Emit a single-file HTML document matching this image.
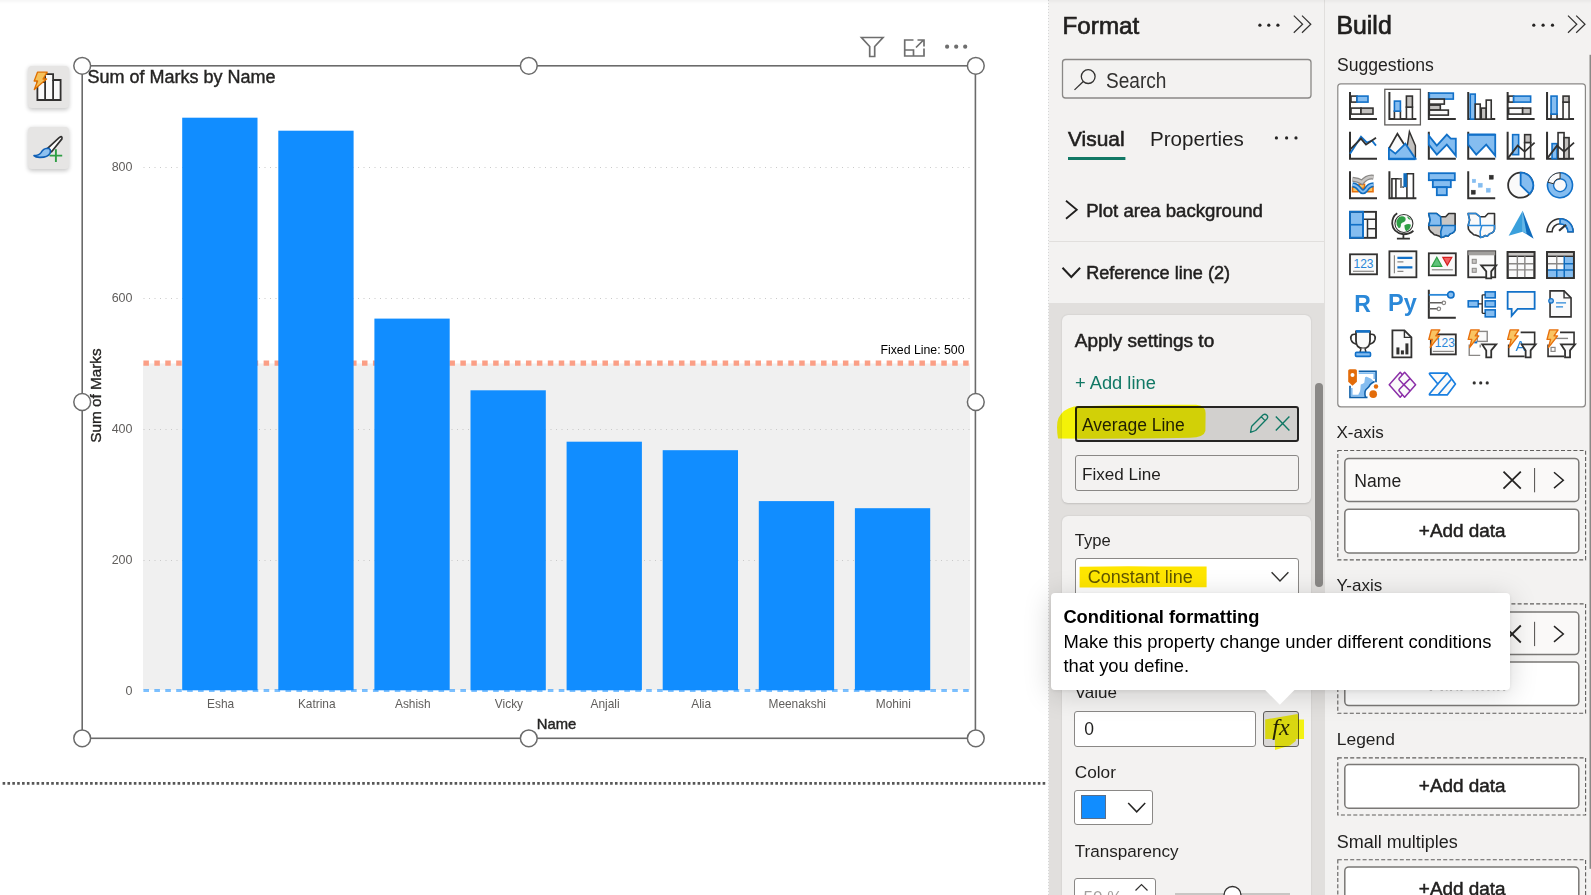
<!DOCTYPE html>
<html><head><meta charset="utf-8"><title>Power BI</title>
<style>
html,body{margin:0;padding:0;width:1591px;height:895px;overflow:hidden;background:#fff;font-family:"Liberation Sans",sans-serif}
.t{position:absolute;white-space:nowrap}
.r{position:absolute}
svg text{font-family:"Liberation Sans",sans-serif}
</style></head><body>
<div class="r" style="left:27.50px;top:66.00px;width:41.50px;height:42.00px;background:#e6e5e4;border-radius:4px;box-shadow:0 1.5px 4px rgba(0,0,0,0.22)"></div>
<div class="r" style="left:27.50px;top:126.60px;width:41.50px;height:42.00px;background:#e6e5e4;border-radius:4px;box-shadow:0 1.5px 4px rgba(0,0,0,0.22)"></div>
<svg class="r" style="left:27.5px;top:66px" width="42" height="42" viewBox="0 0 42 42">
<path d="M9.4 34 V16 H17.1 V8.2 H25.1 V14 H32.6 V34 Z" fill="#fafafa" stroke="#323130" stroke-width="1.8"/>
<path d="M17.1 16 V34 M25.1 14 V34" stroke="#323130" stroke-width="1.8"/>
<path d="M9.5 6.2 H19.2 L15 13 H18.6 L6.3 23.6 L9.6 15 H6.2 Z" fill="#f5c15a" stroke="#e07000" stroke-width="1.3" stroke-linejoin="round"/>
</svg>
<svg class="r" style="left:27.5px;top:126.6px" width="42" height="42" viewBox="0 0 42 42">
<path d="M19.6 21.4 L31.2 10.6 Q34.6 8.2 33.9 11.9 L23.6 24.8 Z" fill="#fff" stroke="#323130" stroke-width="1.7" stroke-linejoin="round"/>
<path d="M6 28.6 Q10.8 28.6 13 25.6 Q15.4 21.4 19.4 21.2 Q23.6 21.4 22 26.4 Q19.8 30.6 11.6 30.4 Q7.6 30.2 6 28.6Z" fill="#8ec1f0" stroke="#0f5fb5" stroke-width="1.6" stroke-linejoin="round"/>
<path d="M21.6 28.6 h12.6 M27.9 22.3 v12.6" stroke="#2e9e44" stroke-width="1.9"/>
</svg>
<svg class="r" style="left:0;top:0" width="1048" height="895" viewBox="0 0 1048 895"><rect x="143" y="363.5" width="827" height="326.5" fill="#f0f0f0"/><line x1="143.5" y1="167.5" x2="970" y2="167.5" stroke="#c9c9c9" stroke-width="1" stroke-dasharray="1 4.5"/><line x1="143.5" y1="298.5" x2="970" y2="298.5" stroke="#c9c9c9" stroke-width="1" stroke-dasharray="1 4.5"/><line x1="143.5" y1="429.5" x2="970" y2="429.5" stroke="#c9c9c9" stroke-width="1" stroke-dasharray="1 4.5"/><line x1="143.5" y1="560.5" x2="970" y2="560.5" stroke="#c9c9c9" stroke-width="1" stroke-dasharray="1 4.5"/><line x1="143.4" y1="363.2" x2="969" y2="363.2" stroke="#fb9f86" stroke-width="5.2" stroke-dasharray="5.5 5.43"/><rect x="182.20" y="117.7" width="75.3" height="572.60" fill="#118dff"/><rect x="278.30" y="130.7" width="75.3" height="559.60" fill="#118dff"/><rect x="374.40" y="318.6" width="75.3" height="371.70" fill="#118dff"/><rect x="470.50" y="390.3" width="75.3" height="300.00" fill="#118dff"/><rect x="566.60" y="441.7" width="75.3" height="248.60" fill="#118dff"/><rect x="662.70" y="450.2" width="75.3" height="240.10" fill="#118dff"/><rect x="758.80" y="501.1" width="75.3" height="189.20" fill="#118dff"/><rect x="854.90" y="508.2" width="75.3" height="182.10" fill="#118dff"/><line x1="143.4" y1="690.5" x2="970" y2="690.5" stroke="#118dff" stroke-opacity="0.55" stroke-width="3" stroke-dasharray="5.6 5.33"/><text x="132.5" y="171" text-anchor="end" font-family="Liberation Sans" font-size="12.5" fill="#605e5c">800</text><text x="132.5" y="302" text-anchor="end" font-family="Liberation Sans" font-size="12.5" fill="#605e5c">600</text><text x="132.5" y="433" text-anchor="end" font-family="Liberation Sans" font-size="12.5" fill="#605e5c">400</text><text x="132.5" y="564" text-anchor="end" font-family="Liberation Sans" font-size="12.5" fill="#605e5c">200</text><text x="132.5" y="695" text-anchor="end" font-family="Liberation Sans" font-size="12.5" fill="#605e5c">0</text><text x="220.65" y="707.7" text-anchor="middle" font-family="Liberation Sans" font-size="11.9" fill="#605e5c">Esha</text><text x="316.75" y="707.7" text-anchor="middle" font-family="Liberation Sans" font-size="11.9" fill="#605e5c">Katrina</text><text x="412.85" y="707.7" text-anchor="middle" font-family="Liberation Sans" font-size="11.9" fill="#605e5c">Ashish</text><text x="508.95" y="707.7" text-anchor="middle" font-family="Liberation Sans" font-size="11.9" fill="#605e5c">Vicky</text><text x="605.05" y="707.7" text-anchor="middle" font-family="Liberation Sans" font-size="11.9" fill="#605e5c">Anjali</text><text x="701.15" y="707.7" text-anchor="middle" font-family="Liberation Sans" font-size="11.9" fill="#605e5c">Alia</text><text x="797.25" y="707.7" text-anchor="middle" font-family="Liberation Sans" font-size="11.9" fill="#605e5c">Meenakshi</text><text x="893.35" y="707.7" text-anchor="middle" font-family="Liberation Sans" font-size="11.9" fill="#605e5c">Mohini</text><text x="556.6" y="728.8" text-anchor="middle" font-family="Liberation Sans" font-size="14.8" fill="#252423" stroke="#252423" stroke-width="0.42">Name</text><text transform="translate(101.2 395.6) rotate(-90)" x="0" y="0" text-anchor="middle" font-family="Liberation Sans" font-size="15.3" fill="#252423" stroke="#252423" stroke-width="0.35">Sum of Marks</text><text x="964.5" y="353.8" text-anchor="end" font-family="Liberation Sans" font-size="12.3" fill="#000">Fixed Line: 500</text><text x="87.5" y="82.7" font-family="Liberation Sans" font-size="18" fill="#252423" stroke="#252423" stroke-width="0.4">Sum of Marks by Name</text><rect x="82.2" y="65.8" width="893.2" height="672.5" fill="none" stroke="#6b6b6b" stroke-width="1.6"/><circle cx="82.2" cy="65.8" r="8.4" fill="#fff" stroke="#6b6b6b" stroke-width="1.5"/><circle cx="82.2" cy="402" r="8.4" fill="#fff" stroke="#6b6b6b" stroke-width="1.5"/><circle cx="82.2" cy="738.3" r="8.4" fill="#fff" stroke="#6b6b6b" stroke-width="1.5"/><circle cx="528.8" cy="65.8" r="8.4" fill="#fff" stroke="#6b6b6b" stroke-width="1.5"/><circle cx="528.8" cy="738.3" r="8.4" fill="#fff" stroke="#6b6b6b" stroke-width="1.5"/><circle cx="975.8" cy="65.8" r="8.4" fill="#fff" stroke="#6b6b6b" stroke-width="1.5"/><circle cx="975.8" cy="402" r="8.4" fill="#fff" stroke="#6b6b6b" stroke-width="1.5"/><circle cx="975.8" cy="738.3" r="8.4" fill="#fff" stroke="#6b6b6b" stroke-width="1.5"/><path d="M861.5 37.5 h21.5 l-8.3 9 v10 h-5 v-10 z" fill="none" stroke="#6e6e6e" stroke-width="1.7" stroke-linejoin="miter"/><path d="M913.5 40 h-8.8 v16 h19.3 v-6.5 M924 48.5 V56 M904.7 50 h8.8 v6 M916 47.5 l7-7 M917.5 40 h6.5 v6.5" fill="none" stroke="#6e6e6e" stroke-width="1.7"/><circle cx="947.1" cy="46.7" r="2.1" fill="#6e6e6e"/><circle cx="956.2" cy="46.7" r="2.1" fill="#6e6e6e"/><circle cx="965.2" cy="46.7" r="2.1" fill="#6e6e6e"/><line x1="2.6" y1="783.4" x2="1046.5" y2="783.4" stroke="#575757" stroke-width="2.6" stroke-dasharray="2.6 2.26"/></svg>
<div class="r" style="left:1048.00px;top:0.00px;width:277.00px;height:895.00px;background:#f3f2f1"></div>
<div class="r" style="left:1048.00px;top:0.00px;width:1.00px;height:895.00px;background:repeating-linear-gradient(#d6d6d6 0 1.5px,#f6f6f6 1.5px 3px)"></div>
<div class="r" style="left:1324.00px;top:0.00px;width:1.00px;height:895.00px;background:#e1dfdd"></div>
<div class="t" style="left:1062.60px;top:13.81px;font-size:24.2px;line-height:24.2px;font-weight:400;color:#201f1e;-webkit-text-stroke:0.68px #201f1e;">Format</div>
<svg class="r" style="left:0;top:0" width="1591" height="895" viewBox="0 0 1591 895"><circle cx="1259.9" cy="25.2" r="1.6" fill="#252423"/><circle cx="1268.8" cy="25.2" r="1.6" fill="#252423"/><circle cx="1277.9" cy="25.2" r="1.6" fill="#252423"/><path d="M1293.8 15.6 L1302.6 24.2 L1293.8 32.8 M1302 15.6 L1310.8 24.2 L1302 32.8" fill="none" stroke="#323130" stroke-width="1.2"/><rect x="1062.5" y="59.5" width="248.5" height="38.5" rx="3" fill="#f3f2f1" stroke="#8a8886" stroke-width="1.3"/><circle cx="1088.2" cy="76.6" r="6.9" fill="none" stroke="#323130" stroke-width="1.3"/><path d="M1083.3 81.5 L1074.5 89.9" stroke="#323130" stroke-width="1.3"/><rect x="1068" y="157" width="57.4" height="3" fill="#117865"/><circle cx="1276.4" cy="137.9" r="1.6" fill="#252423"/><circle cx="1286.6" cy="137.9" r="1.6" fill="#252423"/><circle cx="1296" cy="137.9" r="1.6" fill="#252423"/><path d="M1066 200.8 L1076.8 209.8 L1066 218.8" fill="none" stroke="#201f1e" stroke-width="1.8"/><rect x="1049" y="241" width="275" height="1" fill="#e1dfdd"/><path d="M1062.5 267.8 L1071.3 277 L1080.1 267.8" fill="none" stroke="#201f1e" stroke-width="2"/></svg>
<div class="t" style="left:1106.20px;top:69.55px;font-size:21.8px;line-height:21.8px;font-weight:400;color:#323130;transform:scaleX(0.875);transform-origin:0 0;">Search</div>
<div class="t" style="left:1068.00px;top:128.71px;font-size:20.9px;line-height:20.9px;font-weight:400;color:#201f1e;-webkit-text-stroke:0.59px #201f1e;">Visual</div>
<div class="t" style="left:1150.00px;top:128.96px;font-size:20.6px;line-height:20.6px;font-weight:400;color:#201f1e;">Properties</div>
<div class="t" style="left:1086.20px;top:202.26px;font-size:18.6px;line-height:18.6px;font-weight:400;color:#201f1e;-webkit-text-stroke:0.52px #201f1e;">Plot area background</div>
<div class="t" style="left:1086.20px;top:264.48px;font-size:18.1px;line-height:18.1px;font-weight:400;color:#201f1e;-webkit-text-stroke:0.51px #201f1e;">Reference line (2)</div>
<div class="r" style="left:1049.00px;top:303.30px;width:275.00px;height:591.70px;background:#e1dfdd"></div>
<div class="r" style="left:1062.00px;top:315.00px;width:249.30px;height:188.20px;background:#f3f2f1;border-radius:6px;box-shadow:0 0.5px 2px rgba(0,0,0,0.14)"></div>
<div class="r" style="left:1062.00px;top:516.20px;width:249.30px;height:388.80px;background:#f3f2f1;border-radius:6px;box-shadow:0 0.5px 2px rgba(0,0,0,0.14)"></div>
<div class="t" style="left:1074.80px;top:331.12px;font-size:19.0px;line-height:19.0px;font-weight:400;color:#201f1e;-webkit-text-stroke:0.53px #201f1e;">Apply settings to</div>
<div class="t" style="left:1075.00px;top:373.61px;font-size:18.3px;line-height:18.3px;font-weight:400;color:#117865;">+ Add line</div>
<div class="r" style="left:1074.60px;top:406.40px;width:224.10px;height:35.80px;background:#d2d0ce;border:2px solid #252423;border-radius:3px;box-sizing:border-box"></div>
<div class="t" style="left:1082.00px;top:417.19px;font-size:17.5px;line-height:17.5px;font-weight:400;color:#201f1e;">Average Line</div>
<div class="r" style="left:1074.60px;top:455.40px;width:224.10px;height:35.50px;background:#f3f2f1;border:1px solid #8a8886;border-radius:3px;box-sizing:border-box"></div>
<div class="t" style="left:1082.00px;top:466.42px;font-size:17.1px;line-height:17.1px;font-weight:400;color:#201f1e;">Fixed Line</div>
<div class="t" style="left:1074.80px;top:532.95px;font-size:16.6px;line-height:16.6px;font-weight:400;color:#201f1e;">Type</div>
<div class="r" style="left:1074.60px;top:558.40px;width:224.10px;height:41.60px;background:#ffffff;border:1px solid #8a8886;border-radius:3px;box-sizing:border-box"></div>
<div class="t" style="left:1087.80px;top:568.36px;font-size:18.0px;line-height:18.0px;font-weight:400;color:#605e5c;">Constant line</div>
<svg class="r" style="left:0;top:0" width="1591" height="895" viewBox="0 0 1591 895"><path d="M1250.5 432.3 L1251.7 426.2 L1263.2 414.8 Q1265 413.4 1266.9 415.3 Q1268.5 417.1 1267 418.8 L1255.6 430.5 Z M1261.3 416.8 L1265 420.6" fill="none" stroke="#117865" stroke-width="1.3" stroke-linejoin="round"/><path d="M1275.8 416.4 L1289.4 430.6 M1289.4 416.4 L1275.8 430.6" stroke="#117865" stroke-width="1.4"/><path d="M1271.6 572.3 L1280 580.9 L1288.4 572.3" fill="none" stroke="#323130" stroke-width="1.4"/></svg>
<div class="r" style="left:1315.20px;top:383.30px;width:8.30px;height:204.10px;background:#8a8886;border-radius:4px"></div>
<div class="t" style="left:1074.80px;top:684.31px;font-size:17.0px;line-height:17.0px;font-weight:400;color:#201f1e;">Value</div>
<div class="r" style="left:1074.30px;top:710.80px;width:182.20px;height:35.80px;background:#fff;border:1px solid #8a8886;border-radius:3px;box-sizing:border-box"></div>
<div class="t" style="left:1084.20px;top:721.19px;font-size:17.5px;line-height:17.5px;font-weight:400;color:#201f1e;">0</div>
<div class="r" style="left:1263.00px;top:710.80px;width:36.00px;height:35.80px;background:#d9d7d5;border:1px solid #605e5c;border-radius:3px;box-sizing:border-box"></div>
<div class="t" style="left:1268px;top:712px;width:26px;text-align:center;font-family:'Liberation Serif',serif;font-style:italic;font-size:24px;line-height:30px;color:#252423">fx</div>
<div class="t" style="left:1074.80px;top:764.44px;font-size:17.2px;line-height:17.2px;font-weight:400;color:#201f1e;">Color</div>
<div class="r" style="left:1074.30px;top:789.80px;width:78.40px;height:35.60px;background:#fff;border:1px solid #8a8886;border-radius:3px;box-sizing:border-box"></div>
<div class="r" style="left:1081.00px;top:795.40px;width:24.80px;height:24.00px;background:#118dff;border:1px solid #5a6f8a;box-sizing:border-box"></div>
<svg class="r" style="left:0;top:0" width="1591" height="895" viewBox="0 0 1591 895"><path d="M1128.2 803 L1136.7 811.8 L1145.2 803" fill="none" stroke="#252423" stroke-width="1.5"/></svg>
<div class="t" style="left:1074.80px;top:843.32px;font-size:17.1px;line-height:17.1px;font-weight:400;color:#201f1e;">Transparency</div>
<div class="r" style="left:1074.30px;top:877.50px;width:82.00px;height:32.50px;background:#fff;border:1px solid #8a8886;border-radius:3px;box-sizing:border-box"></div>
<div class="t" style="left:1083.50px;top:888.61px;font-size:17.0px;line-height:17.0px;font-weight:400;color:#a19f9d;">50 %</div>
<svg class="r" style="left:0;top:0" width="1591" height="895" viewBox="0 0 1591 895"><path d="M1135.5 890.5 L1141.5 884.5 L1147.5 890.5" fill="none" stroke="#323130" stroke-width="1.2"/><rect x="1175" y="893" width="115" height="3" fill="#c8c6c4"/><circle cx="1232.5" cy="895" r="8.5" fill="#fff" stroke="#323130" stroke-width="1.3"/></svg>
<svg class="r" style="left:0;top:0;mix-blend-mode:multiply" width="1591" height="895" viewBox="0 0 1591 895"><path d="M1074 406.5 Q1140 404.2 1196 404.8 Q1206 405.3 1205.6 414 L1205.4 431 Q1204 437.5 1190 437.8 Q1120 439 1058 438.6 Q1055.8 424 1058.5 418 Q1063 409 1074 406.5Z" fill="#ffff00" fill-opacity="0.97"/><path d="M1079.6 566.8 Q1130 565.6 1160 566.6 L1206.6 566.6 L1206.6 587.2 Q1150 586.6 1120 587.6 L1079.6 587.6 Z" fill="#ffe600"/><path d="M1265.2 719.5 L1297.7 714.1 L1298.5 719.5 L1304 719.5 L1304 739 L1296 739 L1295.7 741 L1290 745.6 L1275 750 L1274.9 738.9 L1265.2 738.9Z" fill="#ffff00" fill-opacity="0.92"/></svg>
<div class="r" style="left:1325.00px;top:0.00px;width:266.00px;height:895.00px;background:#f3f2f1"></div>
<svg class="r" style="left:0;top:0" width="1591" height="895" viewBox="0 0 1591 895"><circle cx="1533.8" cy="25.2" r="1.6" fill="#252423"/><circle cx="1543.1" cy="25.2" r="1.6" fill="#252423"/><circle cx="1552.5" cy="25.2" r="1.6" fill="#252423"/><path d="M1568 15.6 L1576.8 24.2 L1568 32.8 M1576.2 15.6 L1585 24.2 L1576.2 32.8" fill="none" stroke="#323130" stroke-width="1.2"/><rect x="1337.8" y="83.8" width="247.6" height="323" rx="3" fill="#fff" stroke="#8a8886" stroke-width="1.2"/><rect x="1384.8" y="89.3" width="35.6" height="35.6" fill="none" stroke="#605e5c" stroke-width="1.3"/><g transform="translate(1349.00 92.10)"><path d="M1 0 V27 H28" fill="none" stroke="#323130" stroke-width="2"/><rect x="2" y="4" width="6" height="6" fill="#fafafa" stroke="#323130" stroke-width="1.6"/><rect x="8" y="4" width="11" height="6" fill="#85bdf0" stroke="#1170c8" stroke-width="1.6"/><rect x="2" y="16" width="10" height="6" fill="#fafafa" stroke="#323130" stroke-width="1.6"/><rect x="12" y="16" width="12" height="6" fill="#c3c1bf" stroke="#323130" stroke-width="1.6"/></g><g transform="translate(1388.41 92.10)"><path d="M1 0 V27 H28" fill="none" stroke="#323130" stroke-width="2"/><rect x="6" y="19" width="6" height="8" fill="#fafafa" stroke="#323130" stroke-width="1.6"/><rect x="6" y="9" width="6" height="10" fill="#85bdf0" stroke="#1170c8" stroke-width="1.6"/><rect x="18" y="15" width="6" height="12" fill="#fafafa" stroke="#323130" stroke-width="1.6"/><rect x="18" y="4" width="6" height="11" fill="#c3c1bf" stroke="#323130" stroke-width="1.6"/></g><g transform="translate(1427.82 92.10)"><path d="M1 0 V27 H28" fill="none" stroke="#323130" stroke-width="2"/><rect x="1.5" y="1" width="24" height="6" fill="#85bdf0" stroke="#1170c8" stroke-width="1.6"/><rect x="1.5" y="7" width="15" height="5" fill="#fafafa" stroke="#323130" stroke-width="1.6"/><rect x="1.5" y="13" width="11" height="5" fill="#c3c1bf" stroke="#323130" stroke-width="1.6"/><rect x="1.5" y="18" width="19" height="5" fill="#fafafa" stroke="#323130" stroke-width="1.6"/></g><g transform="translate(1467.23 92.10)"><path d="M1 0 V27 H28" fill="none" stroke="#323130" stroke-width="2"/><rect x="3" y="2" width="5" height="25" fill="#85bdf0" stroke="#1170c8" stroke-width="1.6"/><rect x="8" y="12" width="5" height="15" fill="#fafafa" stroke="#323130" stroke-width="1.6"/><rect x="14" y="16" width="5" height="11" fill="#c3c1bf" stroke="#323130" stroke-width="1.6"/><rect x="19" y="8" width="5" height="19" fill="#fafafa" stroke="#323130" stroke-width="1.6"/></g><g transform="translate(1506.64 92.10)"><path d="M1 0 V27 H28" fill="none" stroke="#323130" stroke-width="2"/><rect x="2" y="4" width="5" height="6" fill="#fafafa" stroke="#323130" stroke-width="1.6"/><rect x="7" y="4" width="17" height="6" fill="#85bdf0" stroke="#1170c8" stroke-width="1.6"/><rect x="2" y="16" width="14" height="6" fill="#fafafa" stroke="#323130" stroke-width="1.6"/><rect x="16" y="16" width="8" height="6" fill="#c3c1bf" stroke="#323130" stroke-width="1.6"/></g><g transform="translate(1546.05 92.10)"><path d="M1 0 V27 H28" fill="none" stroke="#323130" stroke-width="2"/><rect x="5" y="22" width="6" height="5" fill="#fafafa" stroke="#323130" stroke-width="1.6"/><rect x="5" y="4" width="6" height="18" fill="#85bdf0" stroke="#1170c8" stroke-width="1.6"/><rect x="17" y="10" width="6" height="17" fill="#fafafa" stroke="#323130" stroke-width="1.6"/><rect x="17" y="4" width="6" height="6" fill="#c3c1bf" stroke="#323130" stroke-width="1.6"/></g><g transform="translate(1349.00 131.65)"><path d="M1 0 V27 H28" fill="none" stroke="#323130" stroke-width="2"/><path d="M1 22 L12 5 L18 11 L23 9 L27 14" fill="none" stroke="#1170c8" stroke-width="1.8"/><path d="M1 18 L12 7 L17 13 L27 6" fill="none" stroke="#323130" stroke-width="1.8"/></g><g transform="translate(1388.41 131.65)"><path d="M17 27 L21 0 L27 14 V27Z" fill="#c3c1bf" stroke="#323130" stroke-width="1.4"/><path d="M0.5 27 L0.5 17 L9 2 L21 21 V27Z" fill="#fafafa" stroke="#323130" stroke-width="1.8"/><path d="M0.5 27 V17 L7 22 L17 12 L27 27Z" fill="#85bdf0" stroke="#1170c8" stroke-width="1.8"/><path d="M0 27.5 H27" stroke="#1170c8" stroke-width="2"/></g><g transform="translate(1427.82 131.65)"><path d="M1 0 V27 H28" fill="none" stroke="#323130" stroke-width="2"/><path d="M1 4 L9 14 L19 3 L23 7 L28 7 V24 L19 13 L9 23 L1 13Z" fill="#85bdf0" stroke="#1170c8" stroke-width="1.8"/></g><g transform="translate(1467.23 131.65)"><path d="M1 0 V27 H28" fill="none" stroke="#323130" stroke-width="2"/><path d="M1 3 H28 V24 L19 13 L9 23 L1 13Z" fill="#85bdf0" stroke="#1170c8" stroke-width="1.8"/><path d="M1 3 H28" stroke="#1170c8" stroke-width="2"/></g><g transform="translate(1506.64 131.65)"><path d="M1 0 V27 H28" fill="none" stroke="#323130" stroke-width="2"/><rect x="6" y="3" width="6" height="20" fill="#85bdf0" stroke="#1170c8" stroke-width="1.6"/><rect x="18" y="3" width="6" height="8" fill="#c3c1bf" stroke="#323130" stroke-width="1.6"/><rect x="18" y="11" width="6" height="16" fill="#fafafa" stroke="#323130" stroke-width="1.6"/><path d="M1 27 L11 14 L18 20 L28 11" fill="none" stroke="#323130" stroke-width="1.8"/></g><g transform="translate(1546.05 131.65)"><path d="M1 0 V27 H28" fill="none" stroke="#323130" stroke-width="2"/><rect x="6" y="12" width="5" height="15" fill="#85bdf0" stroke="#1170c8" stroke-width="1.6"/><rect x="12" y="1" width="6" height="26" fill="#fafafa" stroke="#323130" stroke-width="1.6"/><rect x="18" y="6" width="5" height="21" fill="#c3c1bf" stroke="#323130" stroke-width="1.6"/><path d="M1 27 L11 14 L18 20 L28 11" fill="none" stroke="#323130" stroke-width="1.8"/></g><g transform="translate(1349.00 171.20)"><path d="M1 0 V27 H28" fill="none" stroke="#323130" stroke-width="2"/><path d="M3.5 16 H9 V20.5 H3.5Z M10 13 H15.5 V17 H10Z M18 15.5 H24 V20.5 H18Z" fill="#f9c462" stroke="#e8700c" stroke-width="1.6"/><path d="M3.5 8 Q9 8.5 13 11 Q18 5 24.5 6" fill="none" stroke="#8a8886" stroke-width="5"/><path d="M3.5 8 Q9 8.5 13 11 Q18 5 24.5 6" fill="none" stroke="#c8c6c4" stroke-width="2.6"/><path d="M3.5 13.5 Q8 14 11 18.5 Q14 22.5 17 18.5 Q20 13.5 24.5 13.5" fill="none" stroke="#0f6cbd" stroke-width="5"/><path d="M3.5 13.5 Q8 14 11 18.5 Q14 22.5 17 18.5 Q20 13.5 24.5 13.5" fill="none" stroke="#85bdf0" stroke-width="2"/></g><g transform="translate(1388.41 171.20)"><path d="M1 0 V27 H28" fill="none" stroke="#323130" stroke-width="2"/><path d="M3.5 27 V7.5 H12.5 V16 H15.5 M7.5 27 V8 M18.5 27 V2.5 H25 V27" fill="none" stroke="#323130" stroke-width="1.6"/><path d="M10 8 H12.5 V16 H15" fill="none" stroke="#8a8886" stroke-width="1.6"/><rect x="15" y="2" width="3.5" height="14" fill="#0f6cbd"/></g><g transform="translate(1427.82 171.20)"><rect x="1" y="2" width="26" height="7" fill="#85bdf0" stroke="#1170c8" stroke-width="1.8"/><rect x="5" y="9" width="18" height="7" fill="#85bdf0" stroke="#1170c8" stroke-width="1.8"/><rect x="9" y="16" width="10" height="8" fill="#85bdf0" stroke="#1170c8" stroke-width="1.8"/></g><g transform="translate(1467.23 171.20)"><path d="M1 0 V27 H28" fill="none" stroke="#323130" stroke-width="2"/><rect x="22" y="4" width="4" height="4" fill="#323130" stroke="#323130" stroke-width="0.5"/><rect x="5" y="8" width="3.5" height="3.5" fill="#85bdf0" stroke="#85bdf0" stroke-width="0.5"/><rect x="11" y="12" width="4" height="4" fill="#85bdf0" stroke="#85bdf0" stroke-width="0.5"/><rect x="19" y="17" width="4" height="4" fill="#85bdf0" stroke="#85bdf0" stroke-width="0.5"/><rect x="4" y="19" width="4" height="4" fill="#323130" stroke="#323130" stroke-width="0.5"/></g><g transform="translate(1506.64 171.20)"><circle cx="14" cy="14" r="12.5" fill="#fafafa" stroke="#323130" stroke-width="1.8"/><path d="M14 1.5 A12.5 12.5 0 0 1 23 22.7 L14 14Z" fill="#85bdf0" stroke="#1170c8" stroke-width="1.8"/></g><g transform="translate(1546.05 171.20)"><circle cx="14" cy="14" r="10" fill="none" stroke="#85bdf0" stroke-width="6"/><path d="M14 1.5 A12.5 12.5 0 1 1 1.8 11" fill="none" stroke="#1170c8" stroke-width="1.6"/><circle cx="14" cy="14" r="6.5" fill="#fafafa" stroke="#1170c8" stroke-width="1.4"/><path d="M1.8 11 A12.5 12.5 0 0 1 14 1.5 V7.5 A6.5 6.5 0 0 0 7.6 12.6Z" fill="#fafafa" stroke="#323130" stroke-width="1"/></g><g transform="translate(1349.00 210.75)"><rect x="1" y="1" width="26" height="26" fill="#fafafa" stroke="#323130" stroke-width="1.6"/><rect x="1" y="1" width="13" height="13" fill="#85bdf0" stroke="#1170c8" stroke-width="1.6"/><rect x="1" y="14" width="13" height="13" fill="#85bdf0" stroke="#1170c8" stroke-width="1.6"/><path d="M14 8.5 H27 M18.5 8.5 V27 M18.5 18 H27" stroke="#323130" stroke-width="1.5"/><rect x="1" y="1" width="26" height="26" fill="none" stroke="#323130" stroke-width="1.6"/><rect x="1" y="1" width="13" height="26" fill="none" stroke="#1170c8" stroke-width="1.8"/></g><g transform="translate(1388.41 210.75)"><circle cx="15.5" cy="12.8" r="9" fill="#fafafa" stroke="#323130" stroke-width="1.1"/><path d="M10.5 6.5 Q14 4.5 17 7 Q18 10 15 11.5 Q12 12 12.5 15 Q12 18 10 17 Q7.5 14 8 10Z M16 14.5 Q20 12.5 22.5 14 Q22 18.5 18 20.5 Q16 19 16 14.5Z M18.5 5.5 Q21 6 22.5 9 Q20 9.5 18.5 5.5Z" fill="#2e9e44"/><path d="M8.8 2.5 Q3.5 6 3.8 13 Q4.5 22 15 23.5 Q21 23.5 25 20 M15 23.5 V27.5 M8.5 27.8 H21.5" fill="none" stroke="#323130" stroke-width="1.8"/></g><g transform="translate(1427.82 210.75)"><path d="M0.9 2.8 H8.8 L12.8 6 H17.8 L20.9 2.8 H27.3 V18.3 Q27 22 22.4 23 L20 25.5 L18 24.8 L16 26 L13.3 26.7 L11 25.2 L8.8 24.4 L6.5 24 L4.8 22.4 L3 21 L1.2 18.4 L0.9 14.8 L2.4 9.3Z" fill="#c8c6c4" stroke="#323130" stroke-width="1.6" stroke-linejoin="round"/><path d="M0.9 2.8 H8.8 L12.8 6 L13.2 14.8 H0.9 L2.4 9.3Z" fill="#85bdf0" stroke="#0f6cbd" stroke-width="1.6" stroke-linejoin="round"/><path d="M14.6 14.8 H27.3 V18.3 Q27 22 22.4 23 L20 25.5 L18 24.8 L16 26 L13.3 26.7 L12.9 21Z" fill="#85bdf0" stroke="#0f6cbd" stroke-width="1.6" stroke-linejoin="round"/></g><g transform="translate(1467.23 210.75)"><path d="M0.9 2.8 H8.8 L12.8 6 H17.8 L20.9 2.8 H27.3 V18.3 Q27 22 22.4 23 L20 25.5 L18 24.8 L16 26 L13.3 26.7 L11 25.2 L8.8 24.4 L6.5 24 L4.8 22.4 L3 21 L1.2 18.4 L0.9 14.8 L2.4 9.3Z" fill="#fafafa" stroke="#323130" stroke-width="1.6" stroke-linejoin="round"/><path d="M0.9 2.8 H8.8 L12.8 6 L13.2 14.8 H0.9 L2.4 9.3Z" fill="none" stroke="#2b88d8" stroke-width="1.5" stroke-linejoin="round"/><path d="M14.6 14.8 H27.3 V18.3 Q27 22 22.4 23 L20 25.5 L18 24.8 L16 26 L13.3 26.7 L12.9 21Z" fill="none" stroke="#2b88d8" stroke-width="1.5" stroke-linejoin="round"/></g><g transform="translate(1506.64 210.75)"><path d="M16 0 L27 28 L16 21Z" fill="#0f6cbd"/><path d="M16 0 L2 25 L16 21Z" fill="#3aa0dc"/><path d="M16 0 L20 23 L16 21Z" fill="#62b8e8"/></g><g transform="translate(1546.05 210.75)"><path d="M1 21 A13 13 0 0 1 27 21 H22 A8 8 0 0 0 6 21Z" fill="#fafafa" stroke="#323130" stroke-width="1.6"/><path d="M14 8 A13 13 0 0 1 27 21 H22 A8 8 0 0 0 14 13Z" fill="#85bdf0" stroke="#1170c8" stroke-width="1.6"/><path d="M13 20 L20 14" stroke="#323130" stroke-width="2.2"/></g><g transform="translate(1349.00 250.30)"><rect x="1" y="4" width="27" height="20" fill="#fafafa" stroke="#323130" stroke-width="1.8"/><text x="14.5" y="18" text-anchor="middle" font-family="Liberation Sans" font-size="12" fill="#2986d8">123</text><path d="M4 21 H25" stroke="#8a8886" stroke-width="1.2"/></g><g transform="translate(1388.41 250.30)"><rect x="1" y="1" width="27" height="26" fill="#fafafa" stroke="#323130" stroke-width="1.8"/><path d="M6 5 V23" stroke="#8a8886" stroke-width="1.2"/><path d="M9 7.5 H24 M9 17 H24" stroke="#1170c8" stroke-width="2.2"/><path d="M9 11.5 H15 M9 21 H15" stroke="#8a8886" stroke-width="1.2"/></g><g transform="translate(1427.82 250.30)"><rect x="1" y="3" width="27" height="22" fill="#fafafa" stroke="#323130" stroke-width="1.8"/><path d="M4 16 L9 7 L14 16Z" fill="#5fc27a" stroke="#2e9e44" stroke-width="1.2"/><path d="M15 7 H24 L19.5 15Z" fill="#f46060" stroke="#d42020" stroke-width="1.2"/><path d="M4 19.5 H25" stroke="#8a8886" stroke-width="1.2"/></g><g transform="translate(1467.23 250.30)"><rect x="1" y="1" width="27" height="26" fill="#fafafa" stroke="#323130" stroke-width="1.8"/><rect x="1" y="1" width="27" height="4" fill="#a19f9d"/><rect x="5" y="9" width="4" height="4" fill="#c8c6c4" stroke="#8a8886"/><rect x="5" y="18" width="4" height="4" fill="#c8c6c4" stroke="#8a8886"/><path d="M14 15 H29 L24 21 V28 H19 V21Z" fill="#fafafa" stroke="#323130" stroke-width="1.8"/></g><g transform="translate(1506.64 250.30)"><rect x="1" y="1.7" width="26.8" height="26" fill="#fafafa" stroke="#323130" stroke-width="1.8"/><rect x="1.5" y="2.2" width="26" height="3.6" fill="#c8c6c4"/><path d="M1 6 H28" stroke="#323130" stroke-width="1.4"/><path d="M1 13.5 H28 M1 19.6 H28 M10.7 6 V27.7 M18.2 6 V27.7" stroke="#8a8886" stroke-width="1.4"/><rect x="1" y="1.7" width="26.8" height="26" fill="none" stroke="#323130" stroke-width="1.8"/></g><g transform="translate(1546.05 250.30)"><rect x="1" y="1.7" width="26.8" height="26" fill="#fafafa" stroke="#323130" stroke-width="1.8"/><rect x="1.5" y="2.2" width="26" height="3.6" fill="#c8c6c4"/><rect x="18.2" y="6" width="9.8" height="21.7" fill="#85bdf0"/><rect x="1" y="19.6" width="27" height="8" fill="#85bdf0"/><path d="M1 6 H28" stroke="#323130" stroke-width="1.4"/><path d="M1 13.5 H18.2 M10.7 6 V19.6" stroke="#8a8886" stroke-width="1.4"/><path d="M18.2 6 V27.7 M18.2 13.5 H28 M1 19.6 H28 M10.7 19.6 V27.7" stroke="#0f6cbd" stroke-width="1.5"/><rect x="1" y="1.7" width="26.8" height="26" fill="none" stroke="#323130" stroke-width="1.8"/></g><g transform="translate(1349.00 289.85)"><text x="13.5" y="22.5" text-anchor="middle" font-family="Liberation Sans" font-weight="700" font-size="23" fill="#2b88d8">R</text></g><g transform="translate(1388.41 289.85)"><text x="14" y="21.5" text-anchor="middle" font-family="Liberation Sans" font-weight="700" font-size="23.5" fill="#2b88d8">Py</text></g><g transform="translate(1427.82 289.85)"><path d="M1 0 V28 H28" fill="none" stroke="#323130" stroke-width="2"/><path d="M1 5 H20" stroke="#2b88d8" stroke-width="1.8"/><circle cx="23" cy="5" r="3.2" fill="#85bdf0" stroke="#1170c8" stroke-width="1.6"/><path d="M1 13 H15 M1 19 H10" stroke="#605e5c" stroke-width="1.5"/><circle cx="16" cy="13" r="1.8" fill="none" stroke="#8a8886" stroke-width="1.2"/><circle cx="11" cy="19" r="1.8" fill="none" stroke="#8a8886" stroke-width="1.2"/></g><g transform="translate(1467.23 289.85)"><rect x="1" y="11" width="10" height="6" fill="#85bdf0" stroke="#1170c8" stroke-width="1.6"/><rect x="18" y="2" width="10" height="6" fill="#85bdf0" stroke="#1170c8" stroke-width="1.6"/><rect x="18" y="11" width="10" height="6" fill="#85bdf0" stroke="#1170c8" stroke-width="1.6"/><rect x="18" y="20" width="10" height="7" fill="#85bdf0" stroke="#1170c8" stroke-width="1.6"/><path d="M11 14 H15 M15 5 V23.5 M15 5 H18 M15 23.5 H18" fill="none" stroke="#323130" stroke-width="1.4"/></g><g transform="translate(1506.64 289.85)"><path d="M1 2 H28 V19 H11 L5 26 V19 H1Z" fill="#fafafa" stroke="#1170c8" stroke-width="1.8"/></g><g transform="translate(1546.05 289.85)"><path d="M4 1 H18 L25 8 V27 H4Z" fill="#fafafa" stroke="#323130" stroke-width="1.6"/><path d="M18 1 V8 H25" fill="none" stroke="#323130" stroke-width="1.4"/><circle cx="5" cy="11" r="2.3" fill="#85bdf0" stroke="#1170c8" stroke-width="1.2"/><path d="M10 13 H20 M10 17 H17" stroke="#2b88d8" stroke-width="1.4"/></g><g transform="translate(1349.00 329.40)"><path d="M7 2 H21 V11 Q21 19 14 19 Q7 19 7 11Z" fill="#fafafa" stroke="#323130" stroke-width="1.8"/><path d="M7 5 Q1 4 2 10 Q3 14 8 15 M21 5 Q27 4 26 10 Q25 14 20 15" fill="none" stroke="#323130" stroke-width="1.7"/><path d="M7 2 H21" stroke="#1170c8" stroke-width="2.6"/><path d="M12 19 L11 23 H17 L16 19" fill="#fafafa" stroke="#323130" stroke-width="1.5"/><rect x="6.5" y="23" width="15" height="4" rx="1" fill="#85bdf0" stroke="#1170c8" stroke-width="1.6"/></g><g transform="translate(1388.41 329.40)"><path d="M4 1 H16 L23 8 V28 H4Z" fill="#fafafa" stroke="#323130" stroke-width="1.8"/><path d="M16 1 V8 H23" fill="none" stroke="#323130" stroke-width="1.4"/><rect x="8" y="18" width="3" height="7" fill="#323130"/><rect x="12.5" y="21" width="3" height="4" fill="#323130"/><rect x="17" y="14" width="3" height="11" fill="#323130"/></g><g transform="translate(1427.82 329.40)"><rect x="3" y="5" width="25" height="20" fill="#fafafa" stroke="#323130" stroke-width="1.8"/><text x="17" y="18" text-anchor="middle" font-family="Liberation Sans" font-size="12" fill="#2986d8">123</text><path d="M5 22 H26" stroke="#8a8886" stroke-width="1.2"/><path d="M3.5 0.5 H12 L8 6.5 H11.5 L2.5 18 L4.5 10 H1Z" fill="#f9c462" stroke="#e8700c" stroke-width="1.4" stroke-linejoin="round"/></g><g transform="translate(1467.23 329.40)"><rect x="10" y="2" width="10" height="10" fill="#fafafa" stroke="#8a8886" stroke-width="1.4"/><path d="M2 15 V26 H13 M13 15 V18" fill="none" stroke="#8a8886" stroke-width="1.4"/><path d="M10 13 H7" stroke="#1170c8" stroke-width="2"/><path d="M15 15 H29 L24 21 V28 H19 V21Z" fill="#fafafa" stroke="#323130" stroke-width="1.8"/><path d="M3.5 0.5 H12 L8 6.5 H11.5 L2.5 18 L4.5 10 H1Z" fill="#f9c462" stroke="#e8700c" stroke-width="1.4" stroke-linejoin="round"/></g><g transform="translate(1506.64 329.40)"><path d="M14 3 H28 V15 M2 15 V27 H18" fill="none" stroke="#323130" stroke-width="1.6"/><text x="14" y="22" text-anchor="middle" font-family="Liberation Sans" font-size="15" fill="#2986d8">A</text><path d="M15 15 H29 L24 21 V28 H19 V21Z" fill="#fafafa" stroke="#323130" stroke-width="1.8"/><path d="M3.5 0.5 H12 L8 6.5 H11.5 L2.5 18 L4.5 10 H1Z" fill="#f9c462" stroke="#e8700c" stroke-width="1.4" stroke-linejoin="round"/></g><g transform="translate(1546.05 329.40)"><path d="M14 3 H28 V15 M2 15 V27 H18" fill="none" stroke="#323130" stroke-width="1.6"/><path d="M10 9 H22" stroke="#8a8886" stroke-width="1.4"/><rect x="5" y="18" width="4" height="4" fill="none" stroke="#8a8886" stroke-width="1.2"/><path d="M15 15 H29 L24 21 V28 H19 V21Z" fill="#fafafa" stroke="#323130" stroke-width="1.8"/><path d="M3.5 0.5 H12 L8 6.5 H11.5 L2.5 18 L4.5 10 H1Z" fill="#f9c462" stroke="#e8700c" stroke-width="1.4" stroke-linejoin="round"/></g><g transform="translate(1349.00 368.95)"><path d="M9.7 2.3 H27 V13.2 M1 16.8 V28.4 H18.5" fill="none" stroke="#0f5fa8" stroke-width="1.7"/><path d="M9.7 4.1 H25.3 V10 M2.7 19 V26.7 H15" fill="none" stroke="#85bdf0" stroke-width="1.8"/><path d="M16.1 8.3 Q17 7.6 17.7 7.9 L22.1 9.9 L25 12.7 Q22.5 14 21 15.9 Q20 18 18.5 19.2 Q16.5 20.5 16.1 22.4 Q15.5 25 15.9 27.6 H9 L9.7 24.8 Q11 23 11.3 20.8 L11.7 15.6 Q14 15 15.3 13.9Z" fill="#85bdf0"/><path d="M25.6 12.5 Q22.5 14 21 15.9 Q20 18 18.5 19.2 Q16.5 20.5 16.1 22.4 Q15.5 25 16.4 28.4" fill="none" stroke="#0f5fa8" stroke-width="1.6"/><path d="M-0.8 1.8 Q-0.8 0.3 0.8 0.3 H6.3 Q7.9 0.3 7.9 1.8 V12.7 L3.5 16.8 L-0.8 12.7Z" fill="#e36c0a"/><circle cx="3.5" cy="6.1" r="2" fill="#fff"/><circle cx="24.2" cy="25.2" r="3.8" fill="#e36c0a"/><circle cx="27" cy="17.6" r="2.2" fill="#e36c0a"/></g><g transform="translate(1388.41 368.95)"><path d="M11.8 3.4 L0.8 15.7 L11.8 28.2 L22.8 15.7Z" fill="#fafafa" stroke="#8b2fa8" stroke-width="1.5" stroke-linejoin="round"/><path d="M16.2 3.4 L27.2 15.7 L16.2 28.2 L10.8 22 Q10.2 21.3 10.8 20.6 L15.4 15.7 L10.8 10.8 Q10.2 10.1 10.8 9.4Z" fill="#fafafa" stroke="#8b2fa8" stroke-width="1.5" stroke-linejoin="round"/><path d="M15.4 15.7 L21.8 9.4 M15.4 15.7 L21.8 22" stroke="#8b2fa8" stroke-width="1.5"/></g><g transform="translate(1427.82 368.95)"><path d="M2.5 4.1 H19.4 L27.6 15 L19.4 26 H2.5 Q1 26 2 24.6 L10 15 L2 5.5 Q1 4.1 2.5 4.1Z" fill="#fafafa" stroke="#1a7fe0" stroke-width="1.7" stroke-linejoin="round"/><path d="M10 15 L19 4.5 M10.3 25.8 L23.4 10.6" stroke="#1a7fe0" stroke-width="1.7"/></g><g transform="translate(1467.23 368.95)"><circle cx="7" cy="14" r="1.6" fill="#323130"/><circle cx="13.5" cy="14" r="1.6" fill="#323130"/><circle cx="20" cy="14" r="1.6" fill="#323130"/></g><rect x="1589.5" y="54.8" width="2" height="814" fill="#8a8886"/><rect x="1337.8" y="450.5" width="247.8" height="109.39999999999998" fill="none" stroke="#605e5c" stroke-width="1.1" stroke-dasharray="4 2.2"/><rect x="1344.8" y="458.4" width="234" height="43.0" rx="4" fill="#faf9f8" stroke="#7a7876" stroke-width="1.5"/><rect x="1344.8" y="509.2" width="234" height="43.80000000000001" rx="4" fill="#fff" stroke="#7a7876" stroke-width="1.5"/><rect x="1337.8" y="603.9" width="247.8" height="109.39999999999998" fill="none" stroke="#605e5c" stroke-width="1.1" stroke-dasharray="4 2.2"/><rect x="1344.8" y="612" width="234" height="42.60000000000002" rx="4" fill="#faf9f8" stroke="#7a7876" stroke-width="1.5"/><rect x="1344.8" y="662" width="234" height="43.60000000000002" rx="4" fill="#fff" stroke="#7a7876" stroke-width="1.5"/><rect x="1337.8" y="757.9" width="247.8" height="57.10000000000002" fill="none" stroke="#605e5c" stroke-width="1.1" stroke-dasharray="4 2.2"/><rect x="1344.8" y="764.6" width="234" height="43.60000000000002" rx="4" fill="#fff" stroke="#7a7876" stroke-width="1.5"/><rect x="1337.8" y="859.7" width="247.8" height="70.29999999999995" fill="none" stroke="#605e5c" stroke-width="1.1" stroke-dasharray="4 2.2"/><rect x="1344.8" y="866.9" width="234" height="53.10000000000002" rx="4" fill="#fff" stroke="#7a7876" stroke-width="1.5"/><path d="M1503.5 471.7 L1520.8 488.7 M1520.8 471.7 L1503.5 488.7" stroke="#252423" stroke-width="1.8"/><rect x="1534" y="468.0" width="1.1" height="24.3" fill="#605e5c"/><path d="M1554 472.3 L1563.3 480.2 L1554 488.09999999999997" fill="none" stroke="#252423" stroke-width="1.5"/><path d="M1503.5 625.5 L1520.8 642.5 M1520.8 625.5 L1503.5 642.5" stroke="#252423" stroke-width="1.8"/><rect x="1534" y="621.8" width="1.1" height="24.3" fill="#605e5c"/><path d="M1554 626.1 L1563.3 634.0 L1554 641.9" fill="none" stroke="#252423" stroke-width="1.5"/></svg>
<div class="t" style="left:1336.40px;top:12.62px;font-size:24.9px;line-height:24.9px;font-weight:400;color:#201f1e;-webkit-text-stroke:0.70px #201f1e;">Build</div>
<div class="t" style="left:1337.00px;top:56.60px;font-size:17.6px;line-height:17.6px;font-weight:400;color:#201f1e;">Suggestions</div>
<div class="t" style="left:1336.50px;top:424.31px;font-size:17.0px;line-height:17.0px;font-weight:400;color:#201f1e;">X-axis</div>
<div class="t" style="left:1354.30px;top:472.90px;font-size:17.6px;line-height:17.6px;font-weight:400;color:#201f1e;">Name</div>
<div class="t" style="left:1162.20px;width:600px;text-align:center;top:521.90px;font-size:18.9px;line-height:18.9px;font-weight:400;color:#201f1e;-webkit-text-stroke:0.53px #201f1e;">+Add data</div>
<div class="t" style="left:1336.50px;top:577.11px;font-size:17.0px;line-height:17.0px;font-weight:400;color:#201f1e;">Y-axis</div>
<div class="t" style="left:1162.20px;width:600px;text-align:center;top:674.50px;font-size:18.9px;line-height:18.9px;font-weight:400;color:#201f1e;-webkit-text-stroke:0.53px #201f1e;">+Add data</div>
<div class="t" style="left:1336.80px;top:731.07px;font-size:17.4px;line-height:17.4px;font-weight:400;color:#201f1e;">Legend</div>
<div class="t" style="left:1162.20px;width:600px;text-align:center;top:777.20px;font-size:18.9px;line-height:18.9px;font-weight:400;color:#201f1e;-webkit-text-stroke:0.53px #201f1e;">+Add data</div>
<div class="t" style="left:1336.80px;top:832.86px;font-size:18.0px;line-height:18.0px;font-weight:400;color:#201f1e;">Small multiples</div>
<div class="t" style="left:1162.20px;width:600px;text-align:center;top:879.60px;font-size:18.9px;line-height:18.9px;font-weight:400;color:#201f1e;-webkit-text-stroke:0.53px #201f1e;">+Add data</div>
<div class="r" style="left:1051px;top:593.3px;width:458.7px;height:96.4px;background:#fff;border-radius:4px;box-shadow:0 4px 28px rgba(0,0,0,0.17),0 1px 4px rgba(0,0,0,0.08)"></div>
<svg class="r" style="left:0;top:0" width="1591" height="895" viewBox="0 0 1591 895"><path d="M1264.2 689 L1279.8 704.8 L1295.4 689Z" fill="#fff"/></svg>
<div class="t" style="left:1063.40px;top:608.01px;font-size:18.3px;line-height:18.3px;font-weight:700;color:#000;">Conditional formatting</div>
<div class="t" style="left:1063.40px;top:632.82px;font-size:18.4px;line-height:18.4px;font-weight:400;color:#000;">Make this property change under different conditions</div>
<div class="t" style="left:1063.40px;top:656.62px;font-size:18.4px;line-height:18.4px;font-weight:400;color:#000;">that you define.</div>
<div class="r" style="left:0;top:0;width:1591px;height:4px;background:linear-gradient(rgba(0,0,0,0.035),rgba(0,0,0,0))"></div>
</body></html>
